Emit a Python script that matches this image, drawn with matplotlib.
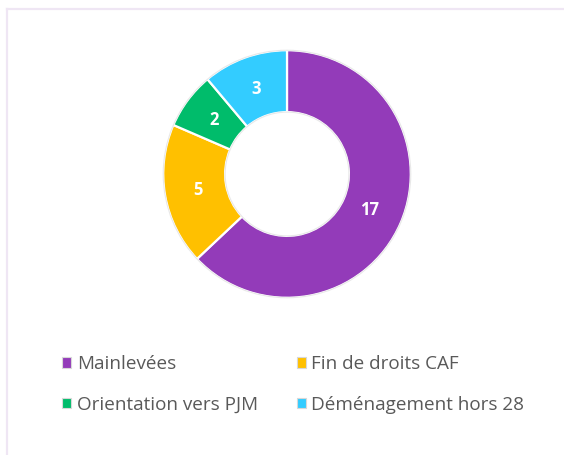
import matplotlib
matplotlib.use('Agg')
import matplotlib.pyplot as plt
from matplotlib.patches import Patch
from matplotlib.lines import Line2D
import numpy as np

plt.rcParams['font.family'] = ['Open Sans', 'DejaVu Sans']

# ---- data ----
categories = ['Mainlevées', 'Fin de droits CAF', 'Orientation vers PJM', 'Déménagement hors 28']
values = [17, 5, 2, 3]
colors = ['#933BB9', '#FFC000', '#00BC6B', '#33CCFF']

W, H = 564, 455
fig = plt.figure(figsize=(W / 100, H / 100), dpi=100)
fig.patch.set_facecolor('white')

# light frame (top and left edges of the chart area)
frame_col = '#EFE6F4'
fig.lines.append(Line2D([7 / W, 1.0], [1 - 9 / H, 1 - 9 / H], transform=fig.transFigure,
                        color=frame_col, linewidth=1.6))
fig.lines.append(Line2D([7 / W, 7 / W], [0, 1 - 9 / H], transform=fig.transFigure,
                        color=frame_col, linewidth=1.6))

# donut
cx, cy, r = 287, 174, 125
ax = fig.add_axes([(cx - r) / W, (H - cy - r) / H, 2 * r / W, 2 * r / H])
wedges, _ = ax.pie(values, colors=colors, startangle=90, counterclock=False,
                   radius=1, wedgeprops=dict(width=0.5, edgecolor='white', linewidth=1.6))
ax.add_patch(plt.Circle((0, 0), 1.0, fill=False, edgecolor='#E8E8E8', linewidth=0.8))
ax.add_patch(plt.Circle((0, 0), 0.5, fill=False, edgecolor='#E8E8E8', linewidth=0.8))

total = sum(values)
start = 90
for v in values:
  mid = np.deg2rad(start - 360 * v / total / 2)
  ax.text(0.73 * np.cos(mid), 0.73 * np.sin(mid), str(v), ha='center', va='center',
          color='white', fontsize=12, fontweight='bold')
  start -= 360 * v / total
ax.set_xlim(-1.01, 1.01)
ax.set_ylim(-1.01, 1.01)
ax.axis('off')

# legend (row-wise order)
order = [0, 2, 1, 3]
handles = [Patch(facecolor=colors[i], edgecolor='#D8D8D8', linewidth=0.8) for i in order]
labels = [categories[i] for i in order]
fig.legend(handles, labels, ncol=2, loc='upper left',
           bbox_to_anchor=(62 / W, 1 - 355 / H),
           frameon=False, prop=dict(size=13.6), labelcolor='#595959',
           handlelength=0.48, handleheight=0.48, handletextpad=0.3,
           columnspacing=2.05, labelspacing=1.2, borderaxespad=0, borderpad=0)

plt.savefig('out.png', dpi=100)
